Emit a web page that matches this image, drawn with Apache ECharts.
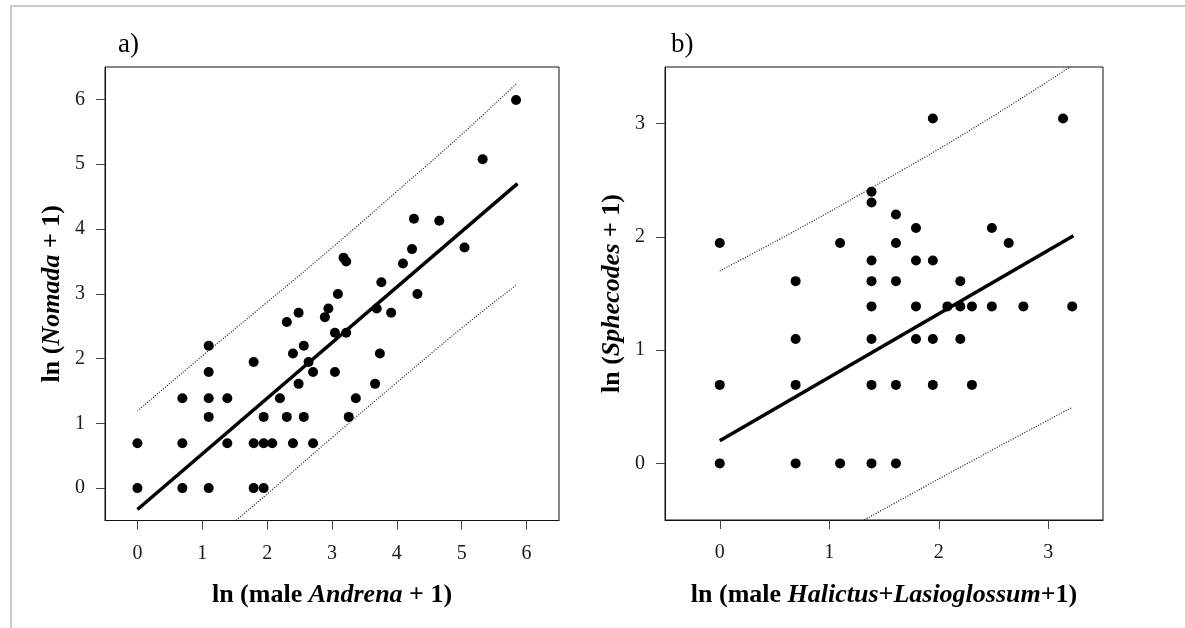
<!DOCTYPE html>
<html>
<head>
<meta charset="utf-8">
<script src="https://cdn.jsdelivr.net/npm/echarts@6/dist/echarts.min.js"></script>
<style>
  html, body { margin: 0; padding: 0; background: #ffffff; }
  #chart { width: 1185px; height: 628px; }
</style>
</head>
<body>
<div id="chart"></div>
<script>
// ---- Panel a: ln(male Andrena + 1) vs ln(Nomada + 1) ----
const andrenaX = [
  0, 0.693, 1.099, 1.792, 1.946,
  0, 0.693, 1.386, 1.792, 1.946, 2.079, 2.398, 2.708,
  1.099, 1.946, 2.303, 2.565, 3.258,
  0.693, 1.099, 1.386, 2.197, 3.367,
  2.485, 3.664,
  1.099, 2.708, 3.045,
  1.792, 2.639,
  2.398, 3.738,
  1.099, 2.565,
  3.045, 3.219,
  2.303,
  2.485, 3.912,
  2.890,
  2.944, 3.689,
  3.091, 4.317,
  3.761,
  4.094,
  3.178, 3.219,
  4.234, 5.043,
  4.263, 4.654,
  5.323,
  5.838
];
const nomadaY = [
  0, 0, 0, 0, 0,
  0.693, 0.693, 0.693, 0.693, 0.693, 0.693, 0.693, 0.693,
  1.099, 1.099, 1.099, 1.099, 1.099,
  1.386, 1.386, 1.386, 1.386, 1.386,
  1.609, 1.609,
  1.792, 1.792, 1.792,
  1.946, 1.946,
  2.079, 2.079,
  2.197, 2.197,
  2.398, 2.398,
  2.565,
  2.708, 2.708,
  2.639,
  2.773, 2.773,
  2.996, 2.996,
  3.178,
  3.466,
  3.555, 3.497,
  3.689, 3.714,
  4.159, 4.127,
  5.075,
  5.991
];
// fitted regression line and prediction limits (panel a)
const fitA = [[0, -0.33], [5.86, 4.70]];
const upperA = [[0, 1.19], [1, 2.04], [2, 2.87], [3, 3.71], [4, 4.58], [5, 5.46], [5.84, 6.24]];
const lowerA = [[1.4, -0.60], [2, -0.09], [3, 0.78], [4, 1.63], [5, 2.47], [5.85, 3.14]];
const ticksAx = [0, 1, 2, 3, 4, 5, 6];
const ticksAy = [0, 1, 2, 3, 4, 5, 6];

// ---- Panel b: ln(male Halictus+Lasioglossum + 1) vs ln(Sphecodes + 1) ----
const halictusX = [
  0, 0.693, 1.099, 1.386, 1.609,
  0, 0.693, 1.386, 1.609, 1.946, 2.303,
  0.693, 1.386, 1.792, 1.946, 2.197,
  1.386, 1.792, 2.079, 2.197, 2.303, 2.485, 2.773, 3.219,
  0.693, 1.386, 1.609, 2.197,
  1.386, 1.792, 1.946,
  0, 1.099, 1.609, 2.639,
  1.792, 2.485,
  1.609,
  1.386,
  1.386,
  1.946, 3.135
];
const sphecodesY = [
  0, 0, 0, 0, 0,
  0.693, 0.693, 0.693, 0.693, 0.693, 0.693,
  1.099, 1.099, 1.099, 1.099, 1.099,
  1.386, 1.386, 1.386, 1.386, 1.386, 1.386, 1.386, 1.386,
  1.609, 1.609, 1.609, 1.609,
  1.792, 1.792, 1.792,
  1.946, 1.946, 1.946, 1.946,
  2.079, 2.079,
  2.197,
  2.303,
  2.398,
  3.045, 3.045
];
const fitB = [[0, 0.20], [3.23, 2.01]];
const upperB = [[0, 1.70], [0.7, 2.06], [1.38, 2.43], [2.3, 2.95], [3.23, 3.52]];
const lowerB = [[1.3, -0.51], [2.3, 0.02], [3.21, 0.49]];
const ticksBx = [0, 1, 2, 3];
const ticksBy = [0, 1, 2, 3];

const SERIF = "'Liberation Serif', 'DejaVu Serif', serif";
const INK = '#000000';

function zip(xs, ys) { return xs.map((x, i) => [x, ys[i]]); }

function nameRich(size) {
  return {
    b: { fontFamily: SERIF, fontWeight: 'bold', fontSize: size, color: INK },
    bi: { fontFamily: SERIF, fontWeight: 'bold', fontStyle: 'italic', fontSize: size, color: INK }
  };
}

function valueAxis(idx, min, max, ticks, labelMargin, extra) {
  return Object.assign({
    type: 'value',
    gridIndex: idx,
    min: min,
    max: max,
    axisLine: { show: true, onZero: false, lineStyle: { color: '#111', width: 1 } },
    axisTick: { show: true, inside: false, length: 9, customValues: ticks, lineStyle: { color: '#444', width: 1 } },
    axisLabel: { customValues: ticks, fontFamily: SERIF, fontSize: 20, color: '#1a1a1a', margin: labelMargin },
    splitLine: { show: false }
  }, extra);
}

const dotted = { color: INK, width: 1.2, type: [1, 1.6], opacity: 0.9 };
const dotStyle = { color: INK, opacity: 1 };

const option = {
  backgroundColor: '#ffffff',
  animation: false,
  title: [
    { text: 'a)', left: 113, top: 26, textStyle: { fontFamily: SERIF, fontWeight: 'normal', fontSize: 27, color: INK } },
    { text: 'b)', left: 666, top: 26, textStyle: { fontFamily: SERIF, fontWeight: 'normal', fontSize: 27, color: INK } }
  ],
  grid: [
    { left: 105, top: 67, width: 454, height: 453.5, show: true, borderColor: '#111', borderWidth: 1, backgroundColor: 'transparent' },
    { left: 665, top: 67, width: 438, height: 453, show: true, borderColor: '#111', borderWidth: 1, backgroundColor: 'transparent' }
  ],
  xAxis: [
    valueAxis(0, -0.5, 6.5, ticksAx, 23, {
      name: '{b|ln (male }{bi|Andrena}{b| + 1)}',
      nameLocation: 'middle', nameGap: 62,
      nameTextStyle: { rich: nameRich(26) }
    }),
    valueAxis(1, -0.5, 3.5, ticksBx, 23, {
      name: '{b|ln (male }{bi|Halictus}{b|+}{bi|Lasioglossum}{b|+1)}',
      nameLocation: 'middle', nameGap: 62,
      nameTextStyle: { rich: nameRich(26) }
    })
  ],
  yAxis: [
    valueAxis(0, -0.5, 6.5, ticksAy, 20, {
      name: '{b|ln (}{bi|Nomada}{b| + 1)}',
      nameLocation: 'middle', nameGap: 40, nameRotate: 90,
      nameTextStyle: { rich: nameRich(26) }
    }),
    valueAxis(1, -0.5, 3.5, ticksBy, 20, {
      name: '{b|ln (}{bi|Sphecodes}{b| + 1)}',
      nameLocation: 'middle', nameGap: 40, nameRotate: 90,
      nameTextStyle: { rich: nameRich(26) }
    })
  ],
  graphic: [
    { type: 'line', shape: { x1: 10, y1: 6, x2: 1185, y2: 6 }, style: { stroke: '#cccccc', lineWidth: 2 }, silent: true },
    { type: 'line', shape: { x1: 11, y1: 6, x2: 11, y2: 628 }, style: { stroke: '#cccccc', lineWidth: 2 }, silent: true }
  ],
  series: [
    { type: 'scatter', xAxisIndex: 0, yAxisIndex: 0, data: zip(andrenaX, nomadaY), symbol: 'circle', symbolSize: 10, itemStyle: dotStyle, z: 3 },
    { type: 'line', xAxisIndex: 0, yAxisIndex: 0, data: fitA, symbol: 'none', lineStyle: { color: INK, width: 3.5 }, clip: true, z: 4 },
    { type: 'line', xAxisIndex: 0, yAxisIndex: 0, data: upperA, symbol: 'none', smooth: true, lineStyle: dotted, clip: true },
    { type: 'line', xAxisIndex: 0, yAxisIndex: 0, data: lowerA, symbol: 'none', smooth: true, lineStyle: dotted, clip: true },

    { type: 'scatter', xAxisIndex: 1, yAxisIndex: 1, data: zip(halictusX, sphecodesY), symbol: 'circle', symbolSize: 10, itemStyle: dotStyle, z: 3 },
    { type: 'line', xAxisIndex: 1, yAxisIndex: 1, data: fitB, symbol: 'none', lineStyle: { color: INK, width: 3.5 }, clip: true, z: 4 },
    { type: 'line', xAxisIndex: 1, yAxisIndex: 1, data: upperB, symbol: 'none', smooth: true, lineStyle: dotted, clip: true },
    { type: 'line', xAxisIndex: 1, yAxisIndex: 1, data: lowerB, symbol: 'none', smooth: true, lineStyle: dotted, clip: true }
  ]
};

const chart = echarts.init(document.getElementById('chart'), null, { renderer: 'canvas' });
chart.setOption(option);
</script>
</body>
</html>
